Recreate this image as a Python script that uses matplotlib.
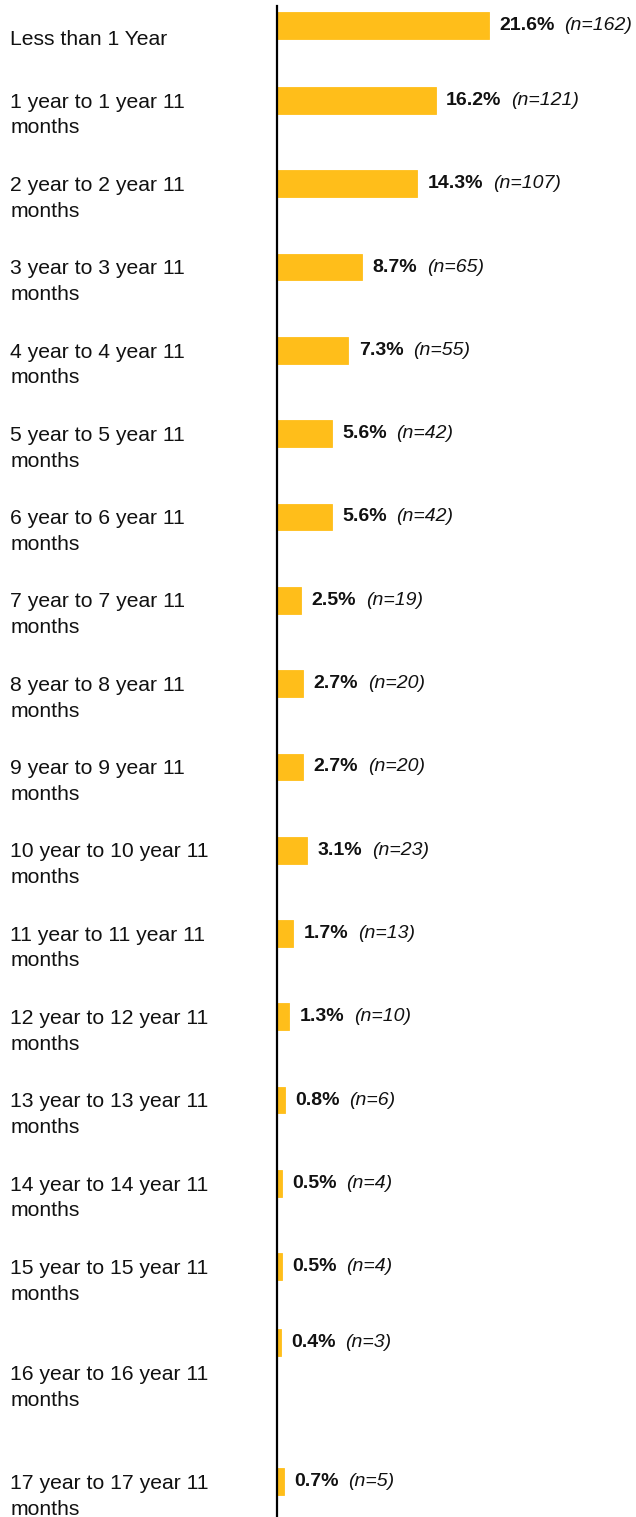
import matplotlib
matplotlib.use("Agg")
import matplotlib.pyplot as plt
from matplotlib.transforms import blended_transform_factory

plt.rcParams["font.family"] = ["Liberation Sans", "DejaVu Sans"]

categories = ["Less than 1 Year"] + [f"{k} year to {k} year 11\nmonths" for k in range(1, 18)]
pct = [21.6, 16.2, 14.3, 8.7, 7.3, 5.6, 5.6, 2.5, 2.7, 2.7, 3.1, 1.7, 1.3, 0.8, 0.5, 0.5, 0.4, 0.7]
counts = [162, 121, 107, 65, 55, 42, 42, 19, 20, 20, 23, 13, 10, 6, 4, 4, 3, 5]

# row layout (the source slide is not evenly spaced at the top and bottom)
bar_pos = [0.10] + list(range(1, 16)) + [15.91, 17.58]
label_pos = [p + 0.175 for p in bar_pos]
label_pos[0] = bar_pos[0] + 0.17
label_pos[16] = 16.45

bar_color = "#FFBE1A"
text_color = "#111111"

fig = plt.figure(figsize=(6.36, 15.17), dpi=100)
ax = fig.add_axes([276.7 / 636, 0, 1 - 276.7 / 636, 1 - 6 / 1517])

ax.barh(bar_pos, pct, height=0.32, color=bar_color, edgecolor=bar_color,
        linewidth=0.6, zorder=1)

ax.set_xlim(0, (636 - 276.7) / 9.815)
ax.set_ylim(18.005, -0.134)

for side in ["top", "right", "bottom"]:
    ax.spines[side].set_visible(False)
ax.spines["left"].set_linewidth(1.6)
ax.spines["left"].set_color("black")
ax.spines["left"].set_zorder(3)
ax.set_xticks([])
ax.set_yticks([])

# category labels on the left side of the figure
trans = blended_transform_factory(fig.transFigure, ax.transData)
for lab, y in zip(categories, label_pos):
    fig.text(10.5 / 636, y, lab, transform=trans, ha="left", va="center",
             fontsize=15.2, color=text_color, linespacing=1.45)

# value labels: bold percent followed by italic count
for v, n, y in zip(pct, counts, bar_pos):
    t = ax.annotate(f"{v}%", xy=(v, y), xytext=(7.5, 0), textcoords="offset points",
                    ha="left", va="center", fontsize=14, fontweight="bold",
                    color=text_color, annotation_clip=False)
    ax.annotate(f"(n={n})", xy=(1, 0.5), xycoords=t, xytext=(7, 0),
                textcoords="offset points", ha="left", va="center",
                fontsize=14, fontstyle="italic", color=text_color,
                annotation_clip=False)

fig.savefig("out.png", dpi=100)
